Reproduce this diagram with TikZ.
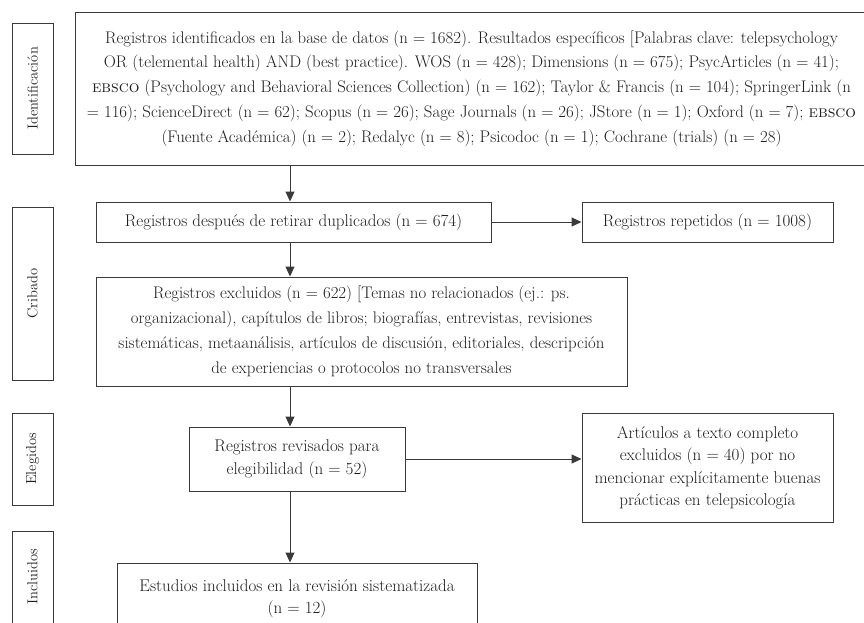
\documentclass[tikz,border=0pt]{standalone}
\usetikzlibrary{arrows.meta}
\definecolor{ln}{HTML}{3A3A3A}
\definecolor{tx}{HTML}{1E1E1E}
\begin{document}
\begin{tikzpicture}[x=1pt,y=-1pt,
  box/.style={draw=ln, line width=1pt, inner sep=0pt, align=center, text=tx,
    font=\fontsize{17}{22.5}\selectfont},
  bigbox/.style={box, font=\fontsize{16.8}{24.8}\selectfont},
  lab/.style={draw=ln, line width=1pt, inner sep=0pt, rotate=90, text=tx,
    minimum height=41pt, font=\fontsize{14.5}{16}\selectfont},
  arr/.style={draw=ln, line width=1pt, -{Triangle[length=10pt,width=9pt]}}]
\useasboundingbox (0,0) rectangle (864,622);
\clip (0,0) rectangle (864,622);
\fill[white] (0,0) rectangle (864,622);
% side labels
\node[lab, minimum width=131pt] (l1) at (32.5,88.5) {Identificación};
\node[lab, minimum width=173pt] (l2) at (32.5,293.5) {Cribado};
\node[lab, minimum width=92pt] (l3) at (32.5,459) {Elegidos};
\node[lab, minimum width=92pt] (l4) at (32.5,577) {Incluidos};
% boxes
\node[bigbox, minimum width=793pt, minimum height=153pt] (top) at (471.5,88.5)
 {Registros identificados en la base de datos (n = 1682). Resultados específicos [Palabras clave: telepsychology\\
  OR (telemental health) AND (best practice). WOS (n = 428); Dimensions (n = 675); PsycArticles (n = 41);\\
  \textsc{ebsco} (Psychology and Behavioral Sciences Collection) (n = 162); Taylor \& Francis (n = 104); SpringerLink (n\\
  = 116); ScienceDirect (n = 62); Scopus (n = 26); Sage Journals (n = 26); JStore (n = 1); Oxford (n = 7); \textsc{ebsco}\\
  (Fuente Académica) (n = 2); Redalyc (n = 8); Psicodoc (n = 1); Cochrane (trials) (n = 28)};
\node[box, minimum width=395pt, minimum height=40pt] (dup) at (293.5,222)
 {Registros después de retirar duplicados (n = 674)};
\node[box, minimum width=251pt, minimum height=40pt] (rep) at (707.5,222)
 {Registros repetidos (n = 1008)};
\node[bigbox, minimum width=531pt, minimum height=109pt] (exc) at (361.5,331.5)
 {Registros excluidos (n = 622) [Temas no relacionados (ej.: ps.\\
  organizacional), capítulos de libros; biografías, entrevistas, revisiones\\
  sistemáticas, metaanálisis, artículos de discusión, editoriales, descripción\\
  de experiencias o protocolos no transversales};
\node[box, minimum width=216pt, minimum height=64pt] (rev) at (297,459)
 {Registros revisados para\\ elegibilidad (n = 52)};
\node[box, minimum width=251pt, minimum height=109pt] (art) at (707.5,467.5)
 {Artículos a texto completo\\ excluidos (n = 40) por no\\ mencionar explícitamente buenas\\ prácticas en telepsicología};
\node[box, minimum width=360pt, minimum height=71pt] (est) at (297,598.5)
 {Estudios incluidos en la revisión sistematizada\\ (n = 12)};
% connectors
\coordinate (ax) at (290,0);
\draw[arr] (top.south -| ax) -- (dup.north -| ax);
\draw[arr] (dup.south -| ax) -- (exc.north -| ax);
\draw[arr] (exc.south -| ax) -- (rev.north -| ax);
\draw[arr] (rev.south -| ax) -- (est.north -| ax);
\draw[arr] (dup.east) -- (rep.west);
\draw[arr] (rev.east) -- (rev.east -| art.west);
\end{tikzpicture}
\end{document}
